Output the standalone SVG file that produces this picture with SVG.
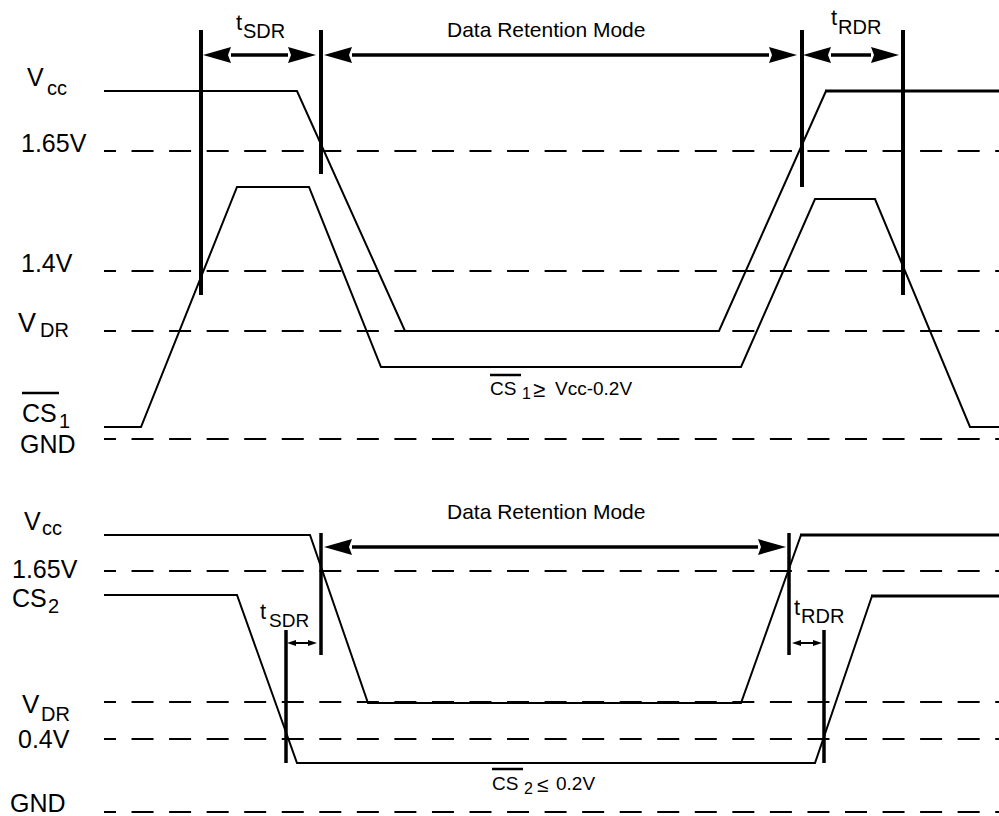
<svg xmlns="http://www.w3.org/2000/svg" width="999" height="816" viewBox="0 0 999 816">
<style>
text{font-family:"Liberation Sans",Arial,sans-serif;fill:#000}
.lbl{font-size:25px}
.sub{font-size:20px}
.t{font-size:22px}
.note{font-size:19px}
.dash{stroke:#000;stroke-width:2;stroke-dasharray:22 15.55;stroke-dashoffset:10;fill:none}
.wave{stroke:#000;stroke-width:2;fill:none;stroke-linejoin:miter}
.thick{stroke:#000;stroke-width:3.2;fill:none}
.mark{stroke:#000;stroke-width:4;fill:none}
.mark2{stroke:#000;stroke-width:3.5;fill:none}
.arr{stroke:#000;stroke-width:3.5;fill:none;marker-start:url(#ah);marker-end:url(#ah)}
.sarr{stroke:#000;stroke-width:2;fill:none;marker-start:url(#sah);marker-end:url(#sah)}
.bar{stroke:#000;stroke-width:2.5}
</style>
<defs>
<marker id="ah" markerUnits="userSpaceOnUse" viewBox="0 0 28 16" markerWidth="28" markerHeight="16" refX="0" refY="8" orient="auto-start-reverse"><path d="M0,0 L28,8 L0,16 L3,8 z" fill="#000"/></marker>
<marker id="sah" markerUnits="userSpaceOnUse" viewBox="0 0 9 6" markerWidth="9" markerHeight="6" refX="0" refY="3" orient="auto-start-reverse"><path d="M0,0 L9,3 L0,6 z" fill="#000"/></marker>
</defs>

<g id="levels-top">
<line class="dash" x1="104" y1="151" x2="999" y2="151"/>
<line class="dash" x1="104" y1="271" x2="999" y2="271"/>
<line class="dash" x1="104" y1="331" x2="999" y2="331"/>
<line class="dash" x1="104" y1="439" x2="999" y2="439"/>
</g>
<g id="levels-bottom">
<line class="dash" x1="104" y1="571" x2="999" y2="571"/>
<line class="dash" x1="104" y1="702" x2="999" y2="702"/>
<line class="dash" x1="104" y1="739" x2="999" y2="739"/>
<line class="dash" x1="104" y1="812" x2="999" y2="812"/>
</g>

<g id="labels-top">
<text class="lbl" x="27" y="86">V<tspan class="sub" x="47" y="95">cc</tspan></text>
<text class="lbl" x="21" y="152">1.65V</text>
<text class="lbl" x="21" y="272">1.4V</text>
<text class="lbl" x="18" y="332" style="font-size:27px">V<tspan class="sub" x="40" y="337">DR</tspan></text>
<text class="lbl" x="22" y="422">CS<tspan class="sub" x="59" y="428">1</tspan></text>
<line class="bar" x1="22" y1="393" x2="59" y2="393"/>
<text class="lbl" x="20" y="453">GND</text>
</g>
<g id="labels-bottom">
<text class="lbl" x="24" y="530">V<tspan class="sub" x="42" y="535">cc</tspan></text>
<text class="lbl" x="12" y="578">1.65V</text>
<text class="lbl" x="12" y="607">CS<tspan class="sub" x="48" y="613">2</tspan></text>
<text class="lbl" x="22" y="713" style="font-size:26px">V<tspan class="sub" x="41" y="721">DR</tspan></text>
<text class="lbl" x="18" y="748">0.4V</text>
<text class="lbl" x="10" y="812">GND</text>
</g>

<g id="vcc-top">
<polyline class="wave" points="104,91 297,91 405,331 719,331 826,91"/>
<line class="thick" x1="825" y1="91" x2="999" y2="91"/>
</g>
<g id="cs1-top">
<polyline class="wave" points="104,427 141,427 237,187 309,187 381,367 741,367 815,199 875,199 970,427 999,427"/>
</g>
<g id="vcc-bottom">
<polyline class="wave" points="104,535 310,535 368,703 741,703 801,535"/>
<line class="thick" x1="800" y1="535" x2="999" y2="535"/>
</g>
<g id="cs2-bottom">
<polyline class="wave" points="104,595 237,595 297,763 815,763 872,596"/>
<line class="thick" x1="871" y1="596" x2="999" y2="596"/>
</g>

<g id="markers-top">
<line class="mark" x1="201" y1="30" x2="201" y2="295"/>
<line class="mark" x1="321" y1="30" x2="321" y2="174"/>
<line class="mark" x1="802" y1="30" x2="802" y2="187"/>
<line class="mark" x1="903" y1="30" x2="903" y2="295"/>
</g>
<g id="markers-bottom">
<line class="mark2" x1="321" y1="533" x2="321" y2="655"/>
<line class="mark2" x1="789" y1="533" x2="789" y2="655"/>
<line class="mark2" x1="286" y1="630" x2="286" y2="763"/>
<line class="mark2" x1="824" y1="630" x2="824" y2="763"/>
</g>

<g id="connectors">
<line class="arr" x1="231" y1="55" x2="288" y2="55"/>
<line class="arr" x1="352" y1="55" x2="769" y2="55"/>
<line class="arr" x1="831" y1="55" x2="871" y2="55"/>
<line class="arr" x1="352" y1="547" x2="758" y2="547"/>
<line class="sarr" x1="296" y1="643" x2="308" y2="643"/>
<line class="sarr" x1="801" y1="643" x2="813" y2="643"/>
</g>

<g id="timing-labels">
<text class="t" x="236" y="30">t<tspan class="sub" x="243" y="38">SDR</tspan></text>
<text class="lbl" x="447" y="37" style="font-size:21px">Data Retention Mode</text>
<text class="t" x="831" y="25">t<tspan class="sub" x="838" y="34">RDR</tspan></text>
<text class="lbl" x="447" y="519" style="font-size:21px">Data Retention Mode</text>
<text class="t" x="260" y="619">t<tspan class="sub" x="269" y="627" style="font-size:19px">SDR</tspan></text>
<text class="t" x="794" y="615">t<tspan class="sub" x="801" y="623">RDR</tspan></text>
</g>

<g id="notes">
<text class="note" x="490" y="395">CS<tspan x="522" y="399" style="font-size:16px">1</tspan><tspan x="533" y="397" style="font-size:22px">≥</tspan><tspan x="555" y="395">Vcc-0.2V</tspan></text>
<line class="bar" x1="490" y1="375" x2="521" y2="375"/>
<text class="note" x="492" y="790">CS<tspan x="524" y="794" style="font-size:16px">2</tspan><tspan x="537" y="792" style="font-size:21px">≤</tspan><tspan x="556" y="790">0.2V</tspan></text>
<line class="bar" x1="492" y1="769" x2="523" y2="769"/>
</g>
</svg>
